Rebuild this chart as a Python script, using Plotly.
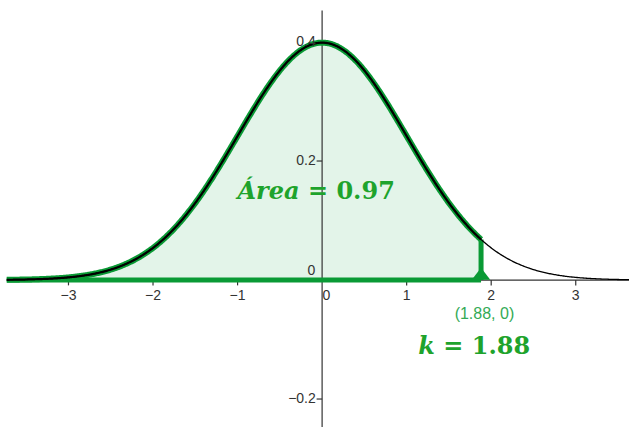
import numpy as np
import plotly.graph_objects as go

# values
k = 1.88
area = 0.97
x_ticks = [-3, -2, -1, 0, 1, 2, 3]
x_tick_labels = ["\u22123", "\u22122", "\u22121", "0", "1", "2", "3"]
y_ticks = [0.2, 0.4, -0.2]
y_tick_labels = ["0.2", "0.4", "\u22120.2"]

GREEN = "#0a9a35"
FILL = "rgba(0,153,51,0.11)"
TEXT_GREEN = "#1ea32c"
AXIS = "#333333"

x_min, x_max = -3.73, 3.63
y_min, y_max = -0.247, 0.4706


def pdf(x):
    return np.exp(-x ** 2 / 2) / np.sqrt(2 * np.pi)


xs = np.linspace(x_min, x_max, 600)
xs_fill = np.linspace(x_min, k, 500)


def seg(x, y, color, width):
    return go.Scatter(x=x, y=y, mode="lines", hoverinfo="skip",
                      line=dict(color=color, width=width, simplify=False))


fig = go.Figure()

# shaded area under the curve up to k
fig.add_trace(go.Scatter(
    x=np.concatenate([[x_min], xs_fill, [k, x_min]]),
    y=np.concatenate([[0], pdf(xs_fill), [0, 0]]),
    fill="toself", fillcolor=FILL, mode="lines",
    line=dict(width=0, simplify=False), hoverinfo="skip"))

# axes
fig.add_trace(seg([x_min, x_max], [0, 0], AXIS, 1.2))
fig.add_trace(seg([0, 0], [y_min, 0.453], AXIS, 1.2))

# tick marks
for t in x_ticks:
    if t != 0:
        fig.add_trace(seg([t, t], [0, -0.009], AXIS, 1.2))
for t in y_ticks:
    fig.add_trace(seg([0, -0.065], [t, t], AXIS, 1.2))

# green border of the region
fig.add_trace(seg(xs_fill, pdf(xs_fill), GREEN, 6))
fig.add_trace(seg([x_min, k], [0, 0], GREEN, 5))
fig.add_trace(seg([k, k], [0, pdf(k)], GREEN, 5))

# normal curve
fig.add_trace(seg(xs, pdf(xs), "black", 1.3))
fig.add_trace(seg(xs_fill, pdf(xs_fill), "black", 2.2))

# point (k, 0)
fig.add_trace(go.Scatter(x=[k], y=[0.007], mode="markers", hoverinfo="skip",
                         marker=dict(symbol="triangle-up", size=16, color=GREEN)))

# tick labels
tick_font = dict(family="Liberation Sans, Arial", size=14, color=AXIS)
fig.add_trace(go.Scatter(
    x=[t + (0.05 if t == 0 else 0) for t in x_ticks], y=[-0.027] * len(x_ticks),
    mode="text", text=x_tick_labels, textfont=tick_font, hoverinfo="skip"))
fig.add_trace(go.Scatter(
    x=[-0.075] * len(y_ticks), y=y_ticks, mode="text", text=y_tick_labels,
    textposition="middle left", textfont=tick_font, hoverinfo="skip"))
fig.add_trace(go.Scatter(
    x=[-0.08], y=[0.015], mode="text", text=["0"], textposition="middle left",
    textfont=tick_font, hoverinfo="skip"))

# labels
fig.add_trace(go.Scatter(
    x=[k + 0.04], y=[-0.059], mode="text", text=["(%.2f, 0)" % k], hoverinfo="skip",
    textfont=dict(family="Liberation Sans, Arial", size=16, color="#33aa55")))
fig.add_trace(go.Scatter(
    x=[k - 0.08], y=[-0.115], mode="text", text=["<b><i>k</i> = %.2f</b>" % k],
    textfont=dict(family="DejaVu Serif", size=24, color=TEXT_GREEN),
    hoverinfo="skip"))
fig.add_trace(go.Scatter(
    x=[-0.07], y=[0.146], mode="text", text=["<b><i>Área</i> = %.2f</b>" % area],
    textfont=dict(family="DejaVu Serif", size=24, color=TEXT_GREEN),
    hoverinfo="skip"))

fig.update_layout(
    width=629, height=427,
    margin=dict(l=0, r=0, t=0, b=0),
    paper_bgcolor="white", plot_bgcolor="white",
    showlegend=False,
    xaxis=dict(range=[-3.81, x_max], visible=False, fixedrange=True),
    yaxis=dict(range=[y_min, y_max], visible=False, fixedrange=True),
)

fig.write_html("out.html", config={"displayModeBar": False},
               post_script="document.body.style.margin='0px';")
